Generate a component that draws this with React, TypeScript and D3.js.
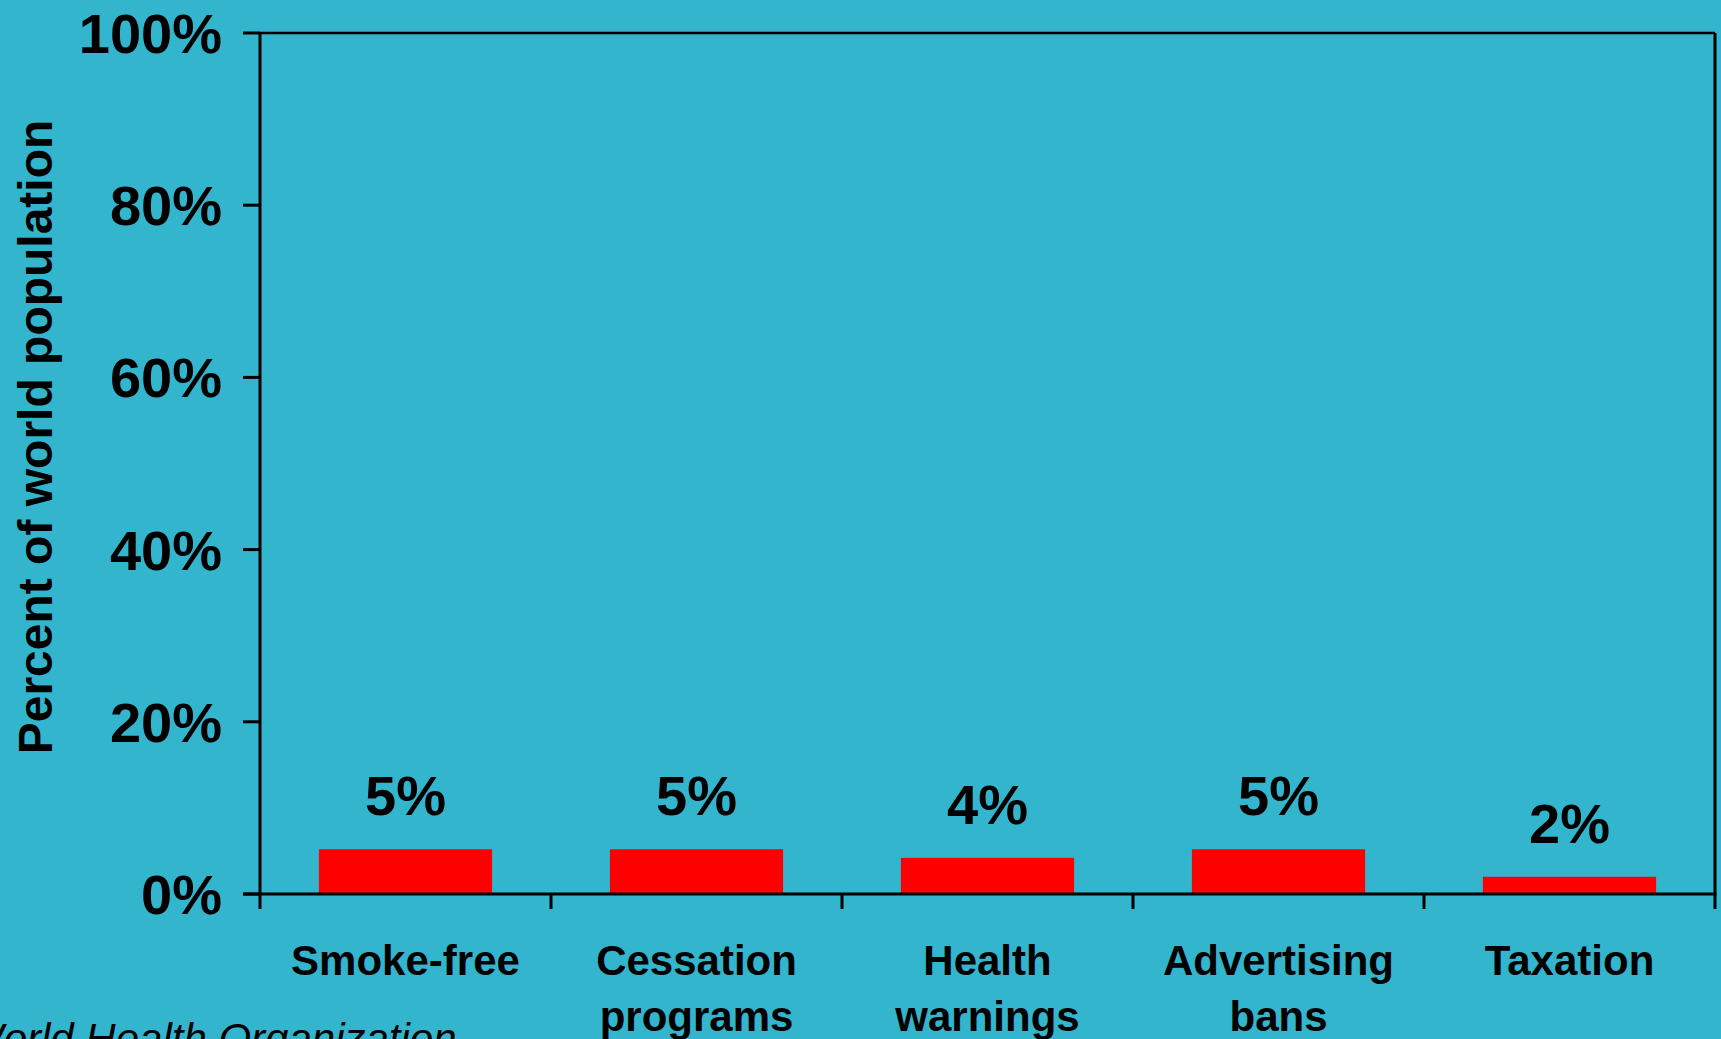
import React from "react";
import * as d3 from "d3";

const categories: string[][] = [
  ["Smoke-free"],
  ["Cessation", "programs"],
  ["Health", "warnings"],
  ["Advertising", "bans"],
  ["Taxation"],
];
const values: number[] = [5.2, 5.2, 4.2, 5.2, 2.0];
const valueLabels: string[] = ["5%", "5%", "4%", "5%", "2%"];
const yTicks: number[] = [0, 20, 40, 60, 80, 100];
const yTitle = "Percent of world population";
const source = "World Health Organization";

const W = 1721;
const H = 1039;
const left = 260;
const right = 1715;
const top = 33;
const bottom = 894;
const BG = "#33B5CE";
const FONT = "'Liberation Sans', Arial, Helvetica, sans-serif";

export default function App() {
  const idx = categories.map((_, i) => String(i));
  const x = d3.scaleBand<string>().domain(idx).range([left, right]).paddingInner(0.405).paddingOuter(0.2025);
  const step = (right - left) / categories.length;
  const y = d3.scaleLinear().domain([0, 100]).range([bottom, top]);
  const boundaries = d3.range(categories.length + 1).map((i) => left + i * step);

  return (
    <svg
      width={W}
      height={H}
      style={{ position: "absolute", left: 0, top: 0, display: "block" }}
      fontFamily={FONT}
    >
      <rect x={0} y={0} width={W} height={H} fill={BG} />
      {/* bars */}
      {values.map((v, i) => (
        <rect
          key={i}
          x={x(String(i))}
          y={y(v)}
          width={x.bandwidth()}
          height={y(0) - y(v)}
          fill="#FF0000"
        />
      ))}
      {/* value labels */}
      {values.map((v, i) => (
        <text
          key={"l" + i}
          x={(x(String(i)) as number) + x.bandwidth() / 2}
          y={y(v) - 34}
          textAnchor="middle"
          fontSize={56}
          fontWeight="bold"
          fill="#000"
        >
          {valueLabels[i]}
        </text>
      ))}
      {/* plot frame */}
      <line x1={left} x2={right} y1={top} y2={top} stroke="#000" strokeWidth={2.5} />
      <line x1={right} x2={right} y1={top} y2={bottom} stroke="#000" strokeWidth={3} />
      <line x1={left} x2={left} y1={top} y2={bottom} stroke="#000" strokeWidth={3} />
      <line x1={left - 17} x2={right + 1.5} y1={bottom} y2={bottom} stroke="#000" strokeWidth={3} />
      {/* y ticks */}
      {yTicks.map((t) => (
        <g key={"t" + t}>
          <line x1={left - 17} x2={left} y1={y(t)} y2={y(t)} stroke="#000" strokeWidth={3} />
          <text
            x={222}
            y={y(t) + 20}
            textAnchor="end"
            fontSize={56}
            fontWeight="bold"
            fill="#000"
          >
            {t + "%"}
          </text>
        </g>
      ))}
      {/* x ticks */}
      {boundaries.map((bx, i) => (
        <line key={"xt" + i} x1={bx} x2={bx} y1={bottom} y2={bottom + 15} stroke="#000" strokeWidth={3} />
      ))}
      {/* category labels */}
      {categories.map((lines, i) => (
        <text
          key={"c" + i}
          x={(x(String(i)) as number) + x.bandwidth() / 2}
          y={975}
          textAnchor="middle"
          fontSize={42}
          fontWeight="bold"
          fill="#000"
        >
          {lines.map((ln, j) => (
            <tspan key={j} x={(x(String(i)) as number) + x.bandwidth() / 2} dy={j === 0 ? 0 : 56}>
              {ln}
            </tspan>
          ))}
        </text>
      ))}
      {/* y title */}
      <text
        transform={`translate(52, 437) rotate(-90)`}
        textAnchor="middle"
        fontSize={48}
        fontWeight="bold"
        fill="#000"
      >
        {yTitle}
      </text>
      {/* source */}
      <text x={-36} y={1053} fontSize={42} fontStyle="italic" fill="#000">
        {source}
      </text>
    </svg>
  );
}
